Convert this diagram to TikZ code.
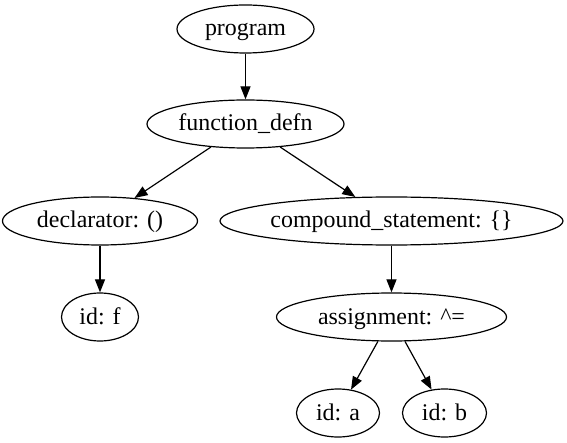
\documentclass[tikz,border=0pt]{standalone}
\usepackage{fontspec}
\setmainfont{Liberation Serif}
\usetikzlibrary{shapes.geometric,arrows.meta}

\tikzset{
  tnode/.style={draw, ellipse, line width=1.2bp, inner sep=0pt, minimum height=48bp,
    text height=18bp, text depth=4bp, font=\fontsize{24}{27}\selectfont},
  tedge/.style={line width=1.2bp, -{Triangle[length=13bp,width=10bp]}}
}

\begin{document}
\begin{tikzpicture}[x=1bp,y=-1bp]
\useasboundingbox (0,0) rectangle (567,443);

% tree nodes
\node[tnode, minimum width=137bp] (program) at (245.5,29) {program};
\node[tnode, minimum width=197bp] (fdefn) at (245.5,124) {function\_defn};
\node[tnode, minimum width=195bp] (decl) at (100,221) {declarator: ()};
\node[tnode, minimum width=343bp] (cstmt) at (391.5,221) {compound\_statement: \{\}};
\node[tnode, minimum width=77bp] (idf) at (100,317) {id: f};
\node[tnode, minimum width=230bp] (assign) at (391.5,317) {assignment: \textasciicircum=};
\node[tnode, minimum width=83bp] (ida) at (338,413) {id: a};
\node[tnode, minimum width=84bp] (idb) at (444.5,413) {id: b};

% edges
\draw[tedge] (program) -- (fdefn);
\draw[tedge] (fdefn) -- (decl);
\draw[tedge] (fdefn) -- (cstmt);
\draw[tedge] (decl) -- (idf);
\draw[tedge] (cstmt) -- (assign);
\draw[tedge] (assign) -- (ida);
\draw[tedge] (assign) -- (idb);
\end{tikzpicture}
\end{document}
